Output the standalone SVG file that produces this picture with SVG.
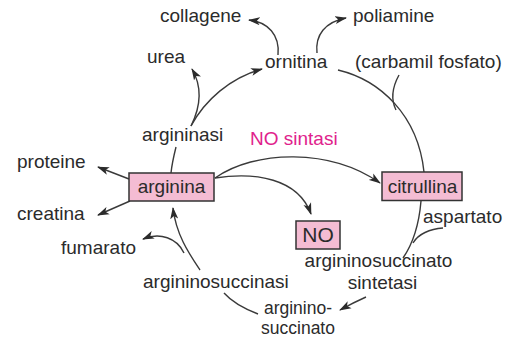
<svg xmlns="http://www.w3.org/2000/svg" width="505" height="338" viewBox="0 0 505 338">
  <style>
    .lbl { font-family: "Liberation Sans", Arial, sans-serif; font-size: 19px; fill: #2b2b2b; }
    .sm { font-size: 17.5px; }
    .enz { fill: #e0228c; }
    .box { fill: #f4bcd3; stroke: #333; stroke-width: 1.5; }
    .ln { fill: none; stroke: #3a3a3a; stroke-width: 1.4; }
    .arr { marker-end: url(#head); }
  </style>
  <defs>
    <marker id="head" markerUnits="userSpaceOnUse" markerWidth="13" markerHeight="9" refX="11" refY="4.5" orient="auto">
      <path d="M0,0.5 L12,4.5 L0,8.5 L3,4.5 z" fill="#2b2b2b"/>
    </marker>
  </defs>
  <rect width="505" height="338" fill="#fff"/>

  <!-- connectors -->
  <g id="connectors">
    <!-- arginase branch -->
    <path class="ln" d="M171,173 C172,163 174,155 176,147"/>
    <path class="ln arr" d="M191,126 C205,100 230,78 262,69"/>
    <path class="ln arr" d="M191,126 C200,108 203,88 192,69"/>
    <!-- ornithine outputs -->
    <path class="ln arr" d="M278,55 C280,35 268,22 249,20"/>
    <path class="ln arr" d="M317,53 C315,35 325,22 346,18"/>
    <!-- ornithine to citrulline, with carbamoyl phosphate -->
    <path class="ln" d="M338,70 C380,80 418,115 424,172"/>
    <path class="ln" d="M399,75 C393,86 390,98 396,110"/>
    <!-- citrulline to argininosuccinate synthetase, with aspartate -->
    <path class="ln" d="M421,201 C419,225 412,245 403,258"/>
    <path class="ln" d="M443,228 C430,229 418,234 413,243"/>
    <path class="ln arr" d="M366,297 C357,301 349,305 340,310"/>
    <!-- argininosuccinate back to arginine, releasing fumarate -->
    <path class="ln" d="M258,314 C245,309 232,302 224,293"/>
    <path class="ln arr" d="M200,270 C190,255 176,235 173,208"/>
    <path class="ln arr" d="M184,253 C177,238 160,232 143,239"/>
    <!-- arginine side products -->
    <path class="ln arr" d="M129,179 L98,167"/>
    <path class="ln arr" d="M130,201 L98,215"/>
    <!-- NO synthase -->
    <path class="ln arr" d="M215,178 C255,150 330,148 380,183"/>
    <path class="ln arr" d="M215,178 C255,172 298,178 311,214"/>
  </g>

  <!-- nodes -->
  <g id="arginina">
    <rect class="box" x="129" y="173" width="85" height="28"/>
    <text class="lbl" x="171.5" y="192.5" text-anchor="middle">arginina</text>
  </g>
  <g id="citrullina">
    <rect class="box" x="382" y="172" width="80" height="28.5"/>
    <text class="lbl" x="422.5" y="192.5" text-anchor="middle">citrullina</text>
  </g>
  <g id="no">
    <rect class="box" x="296" y="221" width="44" height="28"/>
    <text class="lbl" x="318" y="242" text-anchor="middle" style="font-size:21px">NO</text>
  </g>
  <g id="ornitina"><text class="lbl" x="265" y="68">ornitina</text></g>
  <g id="collagene"><text class="lbl" x="160" y="21.5">collagene</text></g>
  <g id="poliamine"><text class="lbl" x="353" y="22">poliamine</text></g>
  <g id="urea"><text class="lbl" x="147" y="63">urea</text></g>
  <g id="carbamil-fosfato"><text class="lbl" x="355" y="68">(carbamil fosfato)</text></g>
  <g id="argininasi"><text class="lbl" x="142" y="141">argininasi</text></g>
  <g id="no-sintasi"><text class="lbl enz" x="250" y="145">NO sintasi</text></g>
  <g id="proteine"><text class="lbl" x="17" y="168">proteine</text></g>
  <g id="creatina"><text class="lbl" x="17" y="220">creatina</text></g>
  <g id="fumarato"><text class="lbl" x="61" y="254">fumarato</text></g>
  <g id="aspartato"><text class="lbl" x="423" y="223">aspartato</text></g>
  <g id="argininosuccinasi"><text class="lbl" x="143" y="288">argininosuccinasi</text></g>
  <g id="argininosuccinato-sintetasi">
    <text class="lbl" x="378.5" y="267" text-anchor="middle">argininosuccinato</text>
    <text class="lbl" x="382.5" y="288.5" text-anchor="middle">sintetasi</text>
  </g>
  <g id="argininosuccinato">
    <text class="lbl sm" x="298" y="314" text-anchor="middle">arginino-</text>
    <text class="lbl sm" x="298" y="334" text-anchor="middle">succinato</text>
  </g>
</svg>
